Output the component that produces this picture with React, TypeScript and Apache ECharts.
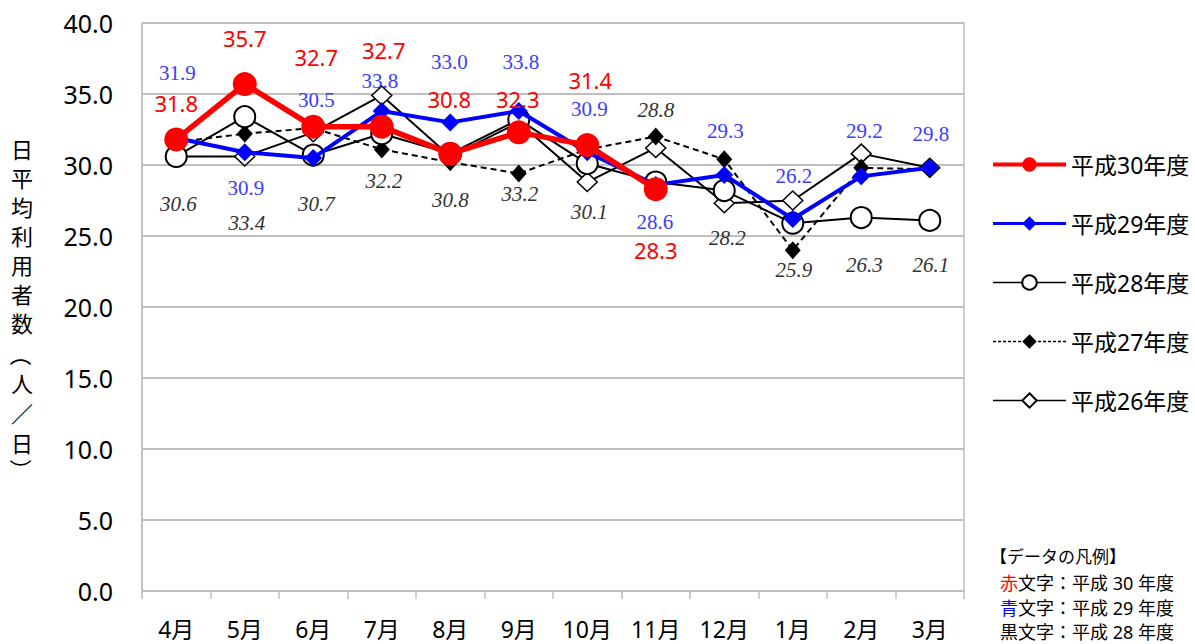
import React, { useEffect, useRef } from "react";
import * as echarts from "echarts";

const months = ["4月", "5月", "6月", "7月", "8月", "9月", "10月", "11月", "12月", "1月", "2月", "3月"];
const seriesNames = ["平成30年度", "平成29年度", "平成28年度", "平成27年度", "平成26年度"];
const h30: (number | null)[] = [31.8, 35.7, 32.7, 32.7, 30.8, 32.3, 31.4, 28.3, null, null, null, null];
const h29 = [31.9, 30.9, 30.5, 33.8, 33.0, 33.8, 30.9, 28.6, 29.3, 26.2, 29.2, 29.8];
const h28 = [30.6, 33.4, 30.7, 32.2, 30.8, 33.2, 30.1, 28.8, 28.2, 25.9, 26.3, 26.1];
const h27 = [31.6, 32.2, 32.6, 31.1, 30.2, 29.4, 31.1, 32.0, 30.4, 24.0, 29.8, 29.7];
const h26 = [30.6, 30.6, 32.3, 34.9, 30.6, 33.0, 28.8, 31.2, 27.3, 27.5, 30.8, 29.8];

// label offsets (pixels, relative to each point)
const offH30 = [[0, -36], [0, -46], [3, -70], [2, -77], [-1, -55], [-1, -33], [3, -65], [0, 61]];
const offH29 = [[1, -65], [1, 36], [3, -58], [-2, -30], [-1, -60], [2, -49], [2, -43], [-1, 37], [1, -44], [1, -43], [3, -45], [1, -34]];
const offH28 = [[2, 48], [2, 106], [3, 49], [2, 47], [0, 46], [1, 74], [2, 48], [0, -72], [3, 47], [1, 47], [3, 47], [1, 45]];

const yTitleChars = ["日", "平", "均", "利", "用", "者", "数", "（", "人", "／", "日", "）"];
const yTitlePos = [149, 178, 207, 236, 265, 294, 323, 355, 383, 413, 443, 470];

const noteLines = [
  { text: "【データの凡例】", y: 556, x: 990, size: 17 },
  { text: "{r|赤}文字：平成 30 年度", y: 583, x: 1000, size: 18 },
  { text: "{b|青}文字：平成 29 年度", y: 608, x: 1000, size: 18 },
  { text: "黒文字：平成 28 年度", y: 632, x: 1000, size: 18 },
];

const SANS = "'Noto Sans', 'Noto Sans CJK JP', sans-serif";
const SERIF = "'Liberation Serif', 'DejaVu Serif', serif";

function withLabels(values: (number | null)[], offsets: number[][] | null) {
  return values.map((v, i) => {
    if (v == null) return "-";
    if (!offsets || !offsets[i]) return v;
    return { value: v, label: { show: true, position: "inside", offset: offsets[i] } };
  });
}

export default function App() {
  const ref = useRef<HTMLDivElement>(null);
  useEffect(() => {
    const chart = echarts.init(ref.current!, null, { renderer: "svg" });
    const fmt = (p: any) => Number(p.value).toFixed(1);
    const option: any = {
      animation: false,
      backgroundColor: "#fff",
      grid: { left: 142, right: 231, top: 23, bottom: 53, show: true, borderColor: "#bfbfbf", borderWidth: 1.5, containLabel: false },
      legend: {
        orient: "vertical",
        left: 986,
        top: 148,
        itemWidth: 73,
        itemHeight: 18,
        itemGap: 36,
        textStyle: { fontSize: 23, lineHeight: 23, color: "#000", fontFamily: SANS },
        data: [
          { name: seriesNames[0], lineStyle: { width: 4 } },
          { name: seriesNames[1], lineStyle: { width: 3 } },
          { name: seriesNames[2], lineStyle: { width: 1.5 } },
          { name: seriesNames[3], lineStyle: { width: 1.5, type: [3, 2] } },
          { name: seriesNames[4], lineStyle: { width: 1.5 } },
        ],
      },
      xAxis: {
        type: "category",
        data: months,
        boundaryGap: true,
        axisLine: { lineStyle: { color: "#bfbfbf", width: 1.5 } },
        axisTick: { show: true, length: 8, lineStyle: { color: "#bfbfbf", width: 1.5 } },
        axisLabel: { fontSize: 23, margin: 26, color: "#000", fontFamily: SANS },
        splitLine: { show: false },
      },
      yAxis: {
        type: "value",
        min: 0,
        max: 40,
        interval: 5,
        axisLine: { show: true, lineStyle: { color: "#bfbfbf", width: 1.5 } },
        axisTick: { show: false },
        axisLabel: { fontSize: 25, margin: 29, color: "#000", fontFamily: SANS, formatter: (v: number) => v.toFixed(1) },
        splitLine: { lineStyle: { color: "#bfbfbf", width: 2 } },
      },
      graphic: [
        ...yTitleChars.map((c, i) => ({
          type: "text",
          x: 22,
          y: yTitlePos[i],
          rotation: c === "（" || c === "）" ? -Math.PI / 2 : 0,
          style: { text: c, fontSize: 22, lineHeight: 22, fontFamily: SANS, fill: "#000", textAlign: "center", textVerticalAlign: "middle" },
        })),
        ...noteLines.map((n) => ({
          type: "text",
          x: n.x,
          y: n.y,
          style: {
            text: n.text, fontSize: n.size, fontFamily: SANS, fill: "#000", textVerticalAlign: "middle",
            rich: {
              r: { fill: "#ff0000", fontSize: n.size, fontFamily: SANS },
              b: { fill: "#0000ff", fontSize: n.size, fontFamily: SANS },
            },
          },
        })),
      ],
      series: [
        {
          name: seriesNames[0], type: "line", z: 10,
          data: withLabels(h30, offH30),
          symbol: "circle", symbolSize: 24, showAllSymbol: true,
          lineStyle: { color: "#ff0000", width: 5.5 },
          itemStyle: { color: "#ff0000" },
          label: { show: false, formatter: fmt, color: "#ff0000", fontSize: 22, fontFamily: SANS },
        },
        {
          name: seriesNames[1], type: "line", z: 9,
          data: withLabels(h29, offH29),
          symbol: "diamond", symbolSize: 18, showAllSymbol: true,
          lineStyle: { color: "#0000ff", width: 4 },
          itemStyle: { color: "#0000ff" },
          label: { show: false, formatter: fmt, color: "#3c3cff", fontSize: 21, fontFamily: SERIF },
        },
        {
          name: seriesNames[2], type: "line", z: 8,
          data: withLabels(h28, offH28),
          symbol: "circle", symbolSize: 21, showAllSymbol: true,
          lineStyle: { color: "#000", width: 2 },
          itemStyle: { color: "#fff", borderColor: "#000", borderWidth: 2 },
          label: { show: false, formatter: fmt, color: "#333", fontSize: 21, fontStyle: "italic", fontFamily: SERIF },
        },
        {
          name: seriesNames[3], type: "line", z: 7,
          data: withLabels(h27, null),
          symbol: "diamond", symbolSize: [16, 18], showAllSymbol: true,
          lineStyle: { color: "#000", width: 2, type: [6, 4] },
          itemStyle: { color: "#000" },
          label: { show: false },
        },
        {
          name: seriesNames[4], type: "line", z: 6,
          data: withLabels(h26, null),
          symbol: "diamond", symbolSize: [20, 19], showAllSymbol: true,
          lineStyle: { color: "#000", width: 2 },
          itemStyle: { color: "#fff", borderColor: "#000", borderWidth: 1.5 },
          label: { show: false },
        },
      ],
    };
    chart.setOption(option);
    return () => chart.dispose();
  }, []);
  return (
    <div
      ref={ref}
      style={{ position: "fixed", left: 0, top: 0, width: 1195, height: 644, background: "#fff" }}
    />
  );
}
